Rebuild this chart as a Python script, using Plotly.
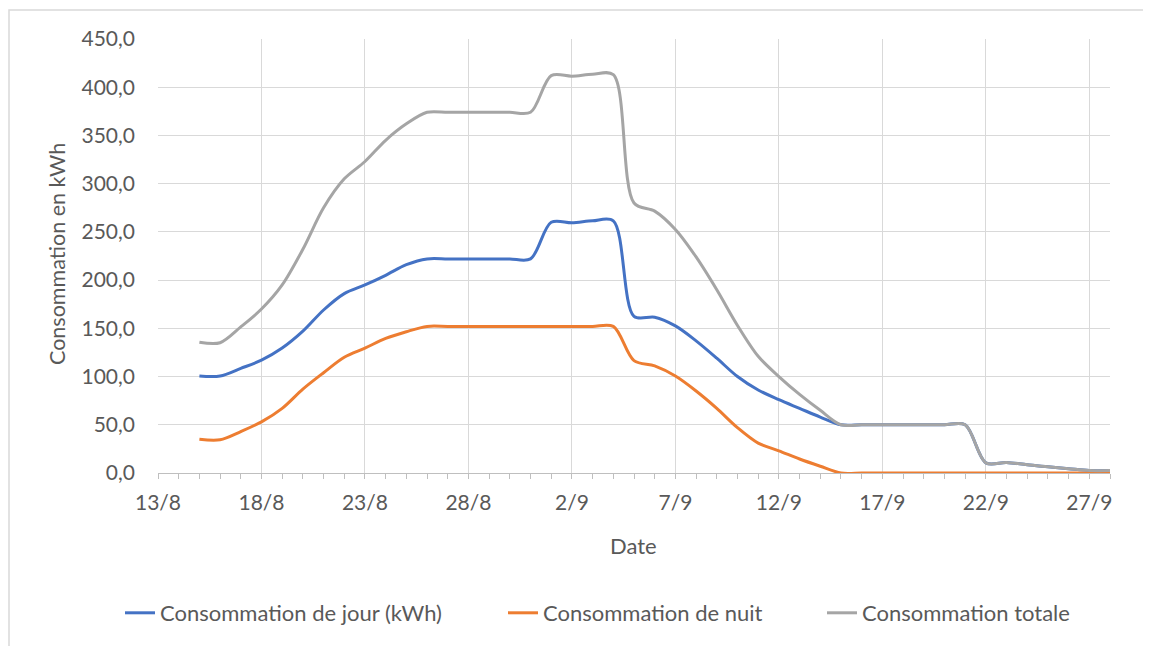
import plotly.graph_objects as go

dates = [
    "2023-08-15", "2023-08-16", "2023-08-17", "2023-08-18", "2023-08-19", "2023-08-20",
    "2023-08-21", "2023-08-22", "2023-08-23", "2023-08-24", "2023-08-25", "2023-08-26",
    "2023-08-27", "2023-08-28", "2023-08-29", "2023-08-30", "2023-08-31",
    "2023-09-01", "2023-09-02", "2023-09-03", "2023-09-04", "2023-09-05", "2023-09-06",
    "2023-09-07", "2023-09-08", "2023-09-09", "2023-09-10", "2023-09-11", "2023-09-12",
    "2023-09-13", "2023-09-14", "2023-09-15", "2023-09-16", "2023-09-17", "2023-09-18",
    "2023-09-19", "2023-09-20", "2023-09-21", "2023-09-22", "2023-09-23", "2023-09-24",
    "2023-09-25", "2023-09-26", "2023-09-27", "2023-09-28",
]

jour = [
    100.6, 100.6, 108.5, 117.0, 129.5, 147.0, 169.0, 186.0, 195.0, 205.0, 216.0, 222.0,
    222.0, 222.0, 222.0, 222.0, 222.0,
    260.0, 259.5, 261.5, 261.5, 162.5, 161.5, 152.5, 137.0, 119.0, 100.0, 86.0, 76.0,
    67.0, 58.0, 50.0, 50.0, 50.0, 50.0, 50.0, 50.0, 50.0, 10.5, 11.0, 8.5,
    6.5, 4.5, 2.5, 2.5,
]

nuit = [
    35.0, 34.5, 43.0, 53.0, 67.0, 87.0, 104.0, 120.0, 129.5, 139.5, 146.5, 152.0,
    152.0, 152.0, 152.0, 152.0, 152.0,
    152.0, 152.0, 152.0, 152.0, 116.5, 111.0, 100.5, 85.0, 67.0, 47.0, 31.0, 23.0,
    14.5, 7.0, 0.0, 0.0, 0.0, 0.0, 0.0, 0.0, 0.0, 0.0, 0.0, 0.0,
    0.0, 0.0, 0.0, 0.0,
]

totale = [
    135.6, 135.1, 151.5, 170.0, 195.0, 232.0, 275.0, 305.0, 323.0, 345.0, 362.0, 374.0,
    374.0, 374.0, 374.0, 374.0, 374.0,
    412.0, 411.5, 413.5, 413.0, 280.0, 271.5, 252.5, 224.0, 190.0, 153.0, 121.0, 100.0,
    81.5, 65.0, 50.0, 50.0, 50.0, 50.0, 50.0, 50.0, 50.0, 10.5, 11.0, 8.5,
    6.5, 4.5, 2.5, 2.5,
]

series_names = ["Consommation de jour (kWh)", "Consommation de nuit", "Consommation totale"]
series_colors = ["#4472C4", "#ED7D31", "#A5A5A5"]
legend_ids = ["legend", "legend2", "legend3"]

x_range = ["2023-08-13", "2023-09-28"]
y_range = [0, 450]

FONT = "Lato"
TXT = "#595959"
GRID = "#D9D9D9"
AXIS = "#BFBFBF"
DAY = 86400000

fig = go.Figure()
for name, vals, col, lg in zip(series_names, [jour, nuit, totale], series_colors, legend_ids):
    fig.add_trace(go.Scatter(
        x=dates, y=vals, name=name, mode="lines",
        line=dict(color=col, width=3, shape="spline", smoothing=0.9),
        hoverinfo="skip", legend=lg,
    ))

# page has an 8px body margin around the figure
OFF = 8
W, H = 1151 - OFF, 646 - OFF
PL, PR, PT, PB = 158, 1110, 39, 473  # plot area in page pixels
L, R, T, B = PL - OFF, OFF + W - PR, PT - OFF, OFF + H - PB
pw = PR - PL
ph = PB - PT

def px_x(p):
    return (p - PL) / pw

def px_y(p):
    return (PB - p) / ph

def legend_at(text_start):
    return dict(
        orientation="h", x=px_x(text_start - 40), xanchor="left",
        y=px_y(613), yanchor="middle",
        font=dict(family=FONT, size=22, color=TXT),
        bgcolor="rgba(0,0,0,0)", borderwidth=0,
    )

fig.update_layout(
    width=W, height=H,
    margin=dict(l=L, r=R, t=T, b=B),
    paper_bgcolor="white", plot_bgcolor="white",
    separators=", ",
    font=dict(family=FONT, color=TXT, size=21),
    showlegend=True,
    legend=legend_at(160),
    legend2=legend_at(543),
    legend3=legend_at(862),
    xaxis=dict(
        type="date", range=x_range, tick0=x_range[0], dtick=5 * DAY,
        tickformat="%-d/%-m", showgrid=True, gridcolor=GRID, gridwidth=1.3,
        showline=True, linecolor=AXIS, linewidth=1.3, zeroline=False,
        ticks="outside", ticklen=5, tickcolor=AXIS, tickwidth=1.3,
        ticklabelstandoff=6,
        minor=dict(dtick=DAY, tick0=x_range[0], ticks="outside", ticklen=5,
                   tickcolor=AXIS, tickwidth=1.3, showgrid=False),
        tickfont=dict(family=FONT, size=21, color=TXT),
        fixedrange=True,
    ),
    xaxis2=dict(
        type="date", range=x_range, overlaying="x", anchor="y", side="bottom",
        tick0=x_range[0], dtick=5 * DAY, showgrid=False, showline=False,
        zeroline=False, showticklabels=False,
        ticks="inside", ticklen=5, tickcolor=AXIS, tickwidth=1.3,
        minor=dict(dtick=DAY, tick0=x_range[0], ticks="inside", ticklen=5,
                   tickcolor=AXIS, tickwidth=1.3, showgrid=False),
    ),
    yaxis=dict(
        range=y_range, dtick=50, tickformat=".1f", showgrid=True, gridcolor=GRID,
        gridwidth=1.3, showline=False, zeroline=False, ticks="",
        ticklabelstandoff=22,
        tickfont=dict(family=FONT, size=21, color=TXT), fixedrange=True,
    ),
    annotations=[
        dict(text="Consommation en kWh", xref="paper", yref="paper",
             x=px_x(57), y=px_y(254), textangle=-90, showarrow=False,
             xanchor="center", yanchor="middle",
             font=dict(family=FONT, size=21.5, color=TXT)),
        dict(text="Date", xref="paper", yref="paper",
             x=px_x(633), y=px_y(545), showarrow=False,
             xanchor="center", yanchor="middle",
             font=dict(family=FONT, size=22, color=TXT)),
    ],
    shapes=[
        dict(type="rect", xref="paper", yref="paper",
             x0=px_x(9), x1=1.3, y0=-1.0, y1=px_y(10),
             line=dict(color=GRID, width=1.5), fillcolor="rgba(0,0,0,0)", layer="below"),
    ],
)

fig.write_html("out.html")
